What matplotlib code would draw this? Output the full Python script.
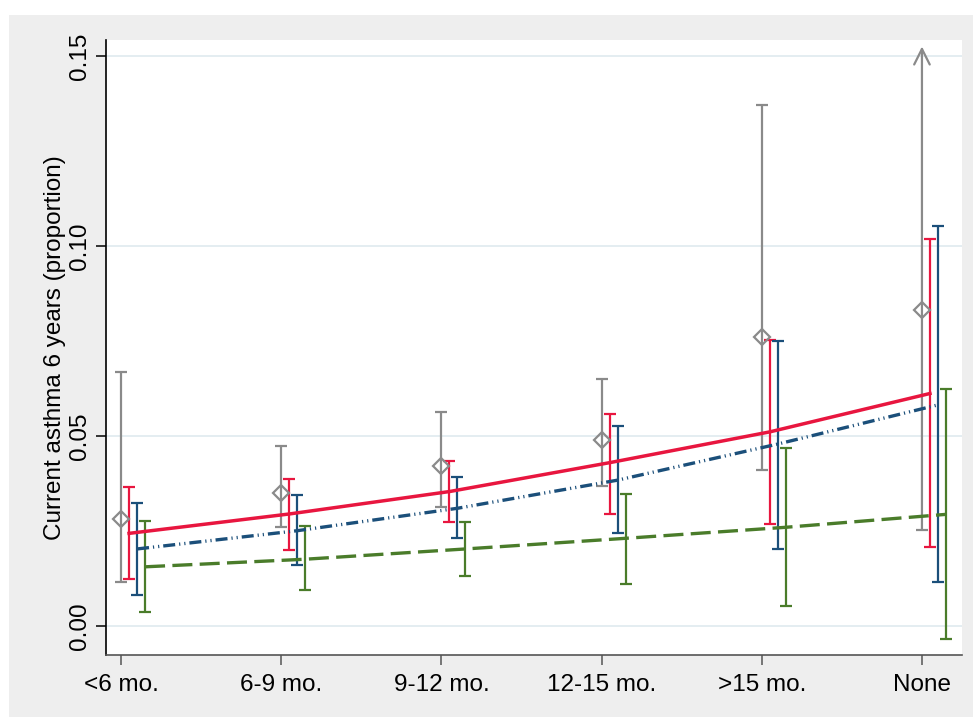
import matplotlib
matplotlib.use('Agg')
import matplotlib.pyplot as plt
from matplotlib.patches import Rectangle

plt.rcParams['font.family'] = ['Liberation Sans', 'DejaVu Sans']

# categories of breastfeeding duration
categories = ['<6 mo.', '6-9 mo.', '9-12 mo.', '12-15 mo.', '>15 mo.', 'None']

# observed proportions (gray diamonds) with 95% CI
obs_est = [0.0281, 0.0351, 0.0421, 0.0489, 0.0761, 0.0832]
obs_lo = [0.0115, 0.0261, 0.0314, 0.0369, 0.0410, 0.0253]
obs_hi = [0.0668, 0.0474, 0.0562, 0.0649, 0.1371, 0.1525]  # last one runs off the top (arrow)

# model 1 (red, solid)
red_est = [0.0244, 0.0295, 0.0354, 0.0430, 0.0511, 0.0612]
red_lo = [0.0123, 0.0200, 0.0274, 0.0295, 0.0268, 0.0209]
red_hi = [0.0365, 0.0388, 0.0435, 0.0557, 0.0754, 0.1018]

# model 2 (navy, dash-dot-dot)
blue_est = [0.0203, 0.0251, 0.0310, 0.0384, 0.0479, 0.0582]
blue_lo = [0.0083, 0.0160, 0.0231, 0.0244, 0.0203, 0.0116]
blue_hi = [0.0323, 0.0345, 0.0393, 0.0527, 0.0749, 0.1053]

# model 3 (green, long dash)
green_est = [0.0156, 0.0176, 0.0203, 0.0231, 0.0260, 0.0294]
green_lo = [0.0038, 0.0095, 0.0132, 0.0111, 0.0053, -0.0034]
green_hi = [0.0276, 0.0264, 0.0273, 0.0347, 0.0469, 0.0625]

yticks = [0.00, 0.05, 0.10, 0.15]
ytick_labels = ['0.00', '0.05', '0.10', '0.15']

gray = '#8a8a8a'
red = '#e8163f'
navy = '#1b4f7a'
green = '#4a7c2a'

W, H = 973, 717
fig = plt.figure(figsize=(W / 100, H / 100), dpi=100)
fig.patch.set_facecolor('white')
# Stata style gray graph region
fig.patches.append(Rectangle((9 / W, 0), 1 - 9 / W, (H - 15) / H,
                             transform=fig.transFigure, facecolor='#eeeeee',
                             edgecolor='none', zorder=-10))

ax = fig.add_axes([106 / W, (H - 655) / H, (962 - 106) / W, (655 - 40) / H])
ax.set_facecolor('white')

x = list(range(len(categories)))


def shift(d):
    return [i + d for i in x]


def yerr(est, lo, hi):
    return [[e - l for e, l in zip(est, lo)], [h - e for e, h in zip(est, hi)]]


eb = dict(fmt='none', elinewidth=1.6, capsize=4.3, capthick=1.6)

# observed: first five with normal caps
ax.errorbar(x[:5], obs_est[:5], yerr=yerr(obs_est[:5], obs_lo[:5], obs_hi[:5]),
            ecolor=gray, zorder=3, **eb)
# last one: lower cap and arrow upwards
ax.plot([x[5]], [obs_lo[5]], marker='_', ms=8.6, mew=1.6, color=gray, zorder=3)
ax.annotate('', xy=(x[5], obs_hi[5]), xytext=(x[5], obs_lo[5]),
            arrowprops=dict(arrowstyle='->', color=gray, lw=1.6,
                            mutation_scale=28, shrinkA=0, shrinkB=0), zorder=3)
ax.plot(x, obs_est, linestyle='none', marker='D', ms=8, mfc='none',
        mec=gray, mew=1.6, zorder=4)

ax.errorbar(shift(0.05), red_est, yerr=yerr(red_est, red_lo, red_hi),
            ecolor=red, zorder=3, **eb)
ax.errorbar(shift(0.10), blue_est, yerr=yerr(blue_est, blue_lo, blue_hi),
            ecolor=navy, zorder=3, **eb)
ax.errorbar(shift(0.15), green_est, yerr=yerr(green_est, green_lo, green_hi),
            ecolor=green, zorder=3, **eb)

ax.plot(shift(0.05), red_est, color=red, lw=2.5, zorder=5)
ax.plot(shift(0.10), blue_est, color=navy, lw=2.4, zorder=5,
        dashes=(3.6, 1.2, 0.35, 1.2, 0.35, 1.2))
ax.plot(shift(0.15), green_est, color=green, lw=2.4, zorder=5,
        dashes=(6, 2.2))

ax.set_xlim(-0.094, 5.25)
ax.set_ylim(-0.0076, 0.1542)

ax.set_yticks(yticks)
ax.set_yticklabels(ytick_labels, rotation=90, va='center')
ax.set_xticks(x)
ax.set_xticklabels(categories)
ax.grid(axis='y', color='#e2ecf0', lw=1.3, zorder=0)
ax.set_axisbelow(True)

for s in ['top', 'right']:
    ax.spines[s].set_visible(False)
ax.spines['left'].set_color('black')
ax.spines['left'].set_linewidth(1.2)
ax.spines['bottom'].set_color('#555555')
ax.spines['bottom'].set_linewidth(1.2)

ax.tick_params(axis='y', length=7, width=1.1, color='black', labelsize=17.5, pad=4)
ax.tick_params(axis='x', length=7, width=1.1, color='#555555', labelsize=17.5, pad=7)

ax.set_ylabel('Current asthma 6 years (proportion)', fontsize=17.5, labelpad=2)

fig.savefig('out.png', dpi=100)
